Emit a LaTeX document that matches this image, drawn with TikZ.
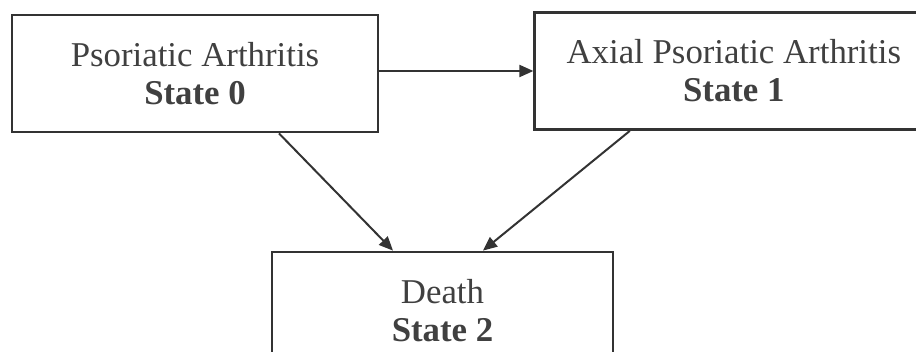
\documentclass[tikz,border=0pt]{standalone}
\usepackage{fontspec}
\setmainfont{Liberation Serif}
\usetikzlibrary{arrows.meta,positioning}

\begin{document}
\begin{tikzpicture}[
  x=0.5pt, y=-0.5pt,
  statebox/.style={draw=black!80, line width=1.4pt, align=center, text=black!75,
    font=\fontsize{17.4pt}{19pt}\selectfont, minimum height=58.5pt},
  arr/.style={-{Triangle[length=7pt,width=6pt]}, line width=1pt, draw=black!80}
]
\useasboundingbox (0,0) rectangle (916,352);
\node[statebox, minimum width=183pt] (s0) at (195,73.5) {Psoriatic Arthritis\\\textbf{State 0}};
\node[statebox, minimum width=199pt, right=77pt of s0, yshift=1.25pt] (s1) {Axial Psoriatic Arthritis\\\textbf{State 1}};
\node[statebox, minimum width=170.5pt] (s2) at (442.5,310.5) {Death\\\textbf{State 2}};
\draw[arr] (s0.east |- s1.west) -- (s1.west);
\draw[arr] ([xshift=42pt]s0.south) -- ([xshift=-24.75pt]s2.north);
\draw[arr] ([xshift=-52pt]s1.south) -- ([xshift=20.25pt]s2.north);
\end{tikzpicture}
\end{document}
